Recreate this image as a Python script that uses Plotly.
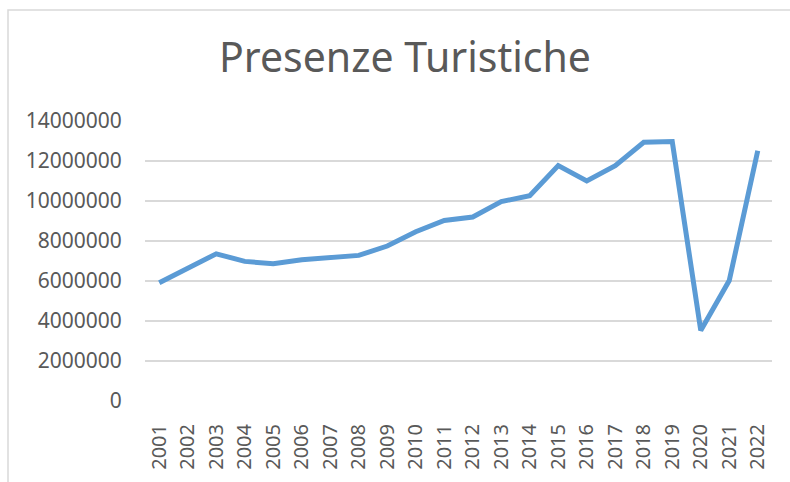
import plotly.graph_objects as go

years = [str(y) for y in range(2001, 2023)]
presenze = [5910000, 6630000, 7360000, 6980000, 6860000, 7060000, 7180000, 7280000,
            7750000, 8460000, 9030000, 9200000, 9970000, 10260000, 11770000, 11000000,
            11770000, 12940000, 12970000, 3530000, 6020000, 12510000]
y_ticks = [0, 2000000, 4000000, 6000000, 8000000, 10000000, 12000000, 14000000]
title_text = "Presenze Turistiche"

FONT = "Noto Sans, Open Sans, sans-serif"
GREY = "#595959"

fig = go.Figure(go.Scatter(
    x=years, y=presenze, mode="lines",
    line=dict(color="#5B9BD5", width=5),
    hoverinfo="x+y",
))

L, R, T, B = 145, 18, 121, 77
W, H = 790, 482
pw, ph = W - L - R, H - T - B

def px_x(p):
    return (p - L) / pw

def px_y(p):
    return (H - B - p) / ph

fig.update_layout(
    width=W, height=H,
    margin=dict(l=L, r=R, t=T, b=B, pad=0),
    paper_bgcolor="white", plot_bgcolor="white",
    showlegend=False,
    title=dict(text=title_text, x=px_x(405), xref="paper", xanchor="center",
               y=1 - 58 / H, yref="container", yanchor="middle",
               font=dict(family=FONT, size=41, color=GREY)),
    xaxis=dict(type="category", tickangle=-90, showgrid=False, showline=False,
               zeroline=False, ticks="outside", ticklen=14, tickcolor="rgba(0,0,0,0)",
               tickfont=dict(family=FONT, size=20, color=GREY),
               range=[-0.5, len(years) - 0.5]),
    yaxis=dict(range=[0, 14000000], tickvals=y_ticks,
               ticktext=[str(v) for v in y_ticks],
               showgrid=True, gridcolor="#d9d9d9", gridwidth=1.6,
               zeroline=False, showline=False,
               ticks="outside", ticklen=18, tickcolor="rgba(0,0,0,0)",
               tickfont=dict(family=FONT, size=21, color=GREY)),
    shapes=[dict(type="rect", xref="paper", yref="paper",
                 x0=px_x(8), x1=px_x(805), y0=px_y(495), y1=px_y(8.5),
                 line=dict(color="#d9d9d9", width=1.5), layer="below")],
)

fig.write_html("out.html",
               config={"displayModeBar": False},
               post_script="document.body.style.margin='0';document.body.style.padding='0';")
